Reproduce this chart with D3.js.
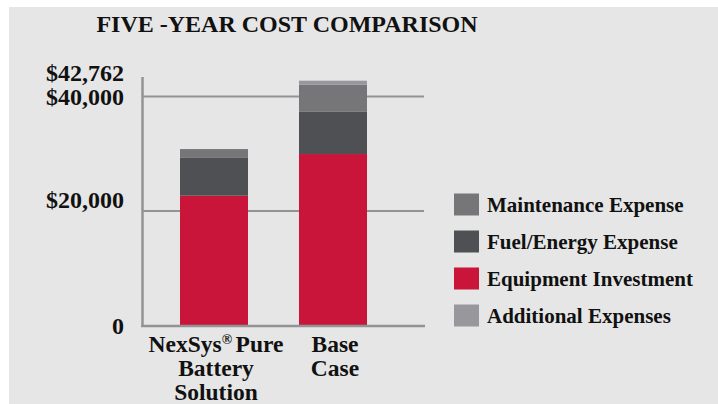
<!DOCTYPE html>
<html>
<head>
<meta charset="utf-8">
<script src="https://cdn.jsdelivr.net/npm/d3@7"></script>
<style>
  body { margin: 0; background: #fff; }
  text { font-family: "Liberation Serif", "Times New Roman", serif; font-weight: bold; fill: #111; }
</style>
</head>
<body>
<svg width="718" height="404"></svg>
<script>
var categories = ["NexSys® Pure Battery Solution", "Base Case"];
var categoryLines = [["NexSys", "® ", "Pure", "Battery", "Solution"], ["Base", "Case"]];
var equipment = [22670, 29950];
var fuel = [6700, 7450];
var maintenance = [1450, 4650];
var additional = [0, 712];
var seriesNames = ["Equipment Investment", "Fuel/Energy Expense", "Maintenance Expense", "Additional Expenses"];
var legendOrder = ["Maintenance Expense", "Fuel/Energy Expense", "Equipment Investment", "Additional Expenses"];
var colors = ["#c9153a", "#4f5053", "#767679", "#98989c"];
var tickValues = [0, 20000, 40000, 42762];
var tickLabels = ["0", "$20,000", "$40,000", "$42,762"];
var gridValues = [20000, 40000];

var svg = d3.select("svg");

svg.append("rect")
    .attr("x", 9).attr("y", 7)
    .attr("width", 709).attr("height", 397)
    .attr("fill", "#e6e6e6");

svg.append("text")
    .attr("x", 287)
    .attr("y", 32)
    .attr("text-anchor", "middle")
    .style("font-size", "24px")
    .text("FIVE -YEAR COST COMPARISON");

var yScale = d3.scaleLinear().domain([0, 40000]).range([325.5, 96.5]);
var xScale = d3.scaleBand().domain(categories).range([180, 367]).paddingInner(51 / 119);

var table = categories.map(function(c, i) {
    return {
        cat: c,
        "Equipment Investment": equipment[i],
        "Fuel/Energy Expense": fuel[i],
        "Maintenance Expense": maintenance[i],
        "Additional Expenses": additional[i]
    };
});
var stacked = d3.stack().keys(seriesNames)(table);
var color = d3.scaleOrdinal().domain(seriesNames).range(colors);

// grid lines
svg.selectAll(".grid")
    .data(gridValues)
    .enter()
    .append("line")
    .attr("x1", 142).attr("x2", 424)
    .attr("y1", d => yScale(d)).attr("y2", d => yScale(d))
    .attr("stroke", "#939396")
    .attr("stroke-width", 2);

// bars
svg.append("g").selectAll("g")
    .data(stacked)
    .enter()
    .append("g")
    .attr("fill", d => color(d.key))
    .selectAll("rect")
    .data(d => d)
    .enter()
    .append("rect")
    .attr("x", d => xScale(d.data.cat))
    .attr("y", d => yScale(d[1]))
    .attr("width", xScale.bandwidth())
    .attr("height", d => yScale(d[0]) - yScale(d[1]));

// axes lines
svg.append("line")
    .attr("x1", 142.5).attr("x2", 142.5)
    .attr("y1", 77).attr("y2", 327)
    .attr("stroke", "#939396").attr("stroke-width", 2.5);
svg.append("line")
    .attr("x1", 141).attr("x2", 425)
    .attr("y1", yScale(0) + 0.5).attr("y2", yScale(0) + 0.5)
    .attr("stroke", "#939396").attr("stroke-width", 2.5);

// y tick labels
var nudge = { 20000: -11, 42762: -8 };
svg.selectAll(".ylab")
    .data(tickValues)
    .enter()
    .append("text")
    .attr("class", "ylab")
    .attr("x", 124)
    .attr("y", d => yScale(d) + (nudge[d] || 0) + 8)
    .attr("text-anchor", "end")
    .style("font-size", "24px")
    .text((d, i) => tickLabels[i]);

// x labels
var first = svg.append("text")
    .attr("x", xScale(categories[0]) + xScale.bandwidth() / 2 + 2)
    .attr("y", 352)
    .attr("text-anchor", "middle")
    .style("font-size", "23.5px");
first.append("tspan").text(categoryLines[0][0]);
first.append("tspan").attr("dy", -8).style("font-size", "14px").text(categoryLines[0][1]);
first.append("tspan").attr("dy", 8).text(categoryLines[0][2]);
[categoryLines[0][3], categoryLines[0][4]].forEach(function(t, i) {
    svg.append("text")
        .attr("x", xScale(categories[0]) + xScale.bandwidth() / 2 + 2)
        .attr("y", 376 + i * 24)
        .attr("text-anchor", "middle")
        .style("font-size", "23.5px")
        .text(t);
});
categoryLines[1].forEach(function(t, i) {
    svg.append("text")
        .attr("x", xScale(categories[1]) + xScale.bandwidth() / 2 + 2)
        .attr("y", 352 + i * 24)
        .attr("text-anchor", "middle")
        .style("font-size", "23.5px")
        .text(t);
});

// legend
var legend = svg.selectAll(".legend")
    .data(legendOrder)
    .enter()
    .append("g")
    .attr("transform", (d, i) => "translate(454," + (204.5 + i * 37) + ")");
legend.append("rect")
    .attr("x", 0).attr("y", -11)
    .attr("width", 25).attr("height", 22)
    .attr("fill", d => color(d));
legend.append("text")
    .attr("x", 33)
    .attr("y", 7)
    .style("font-size", "21px")
    .text(d => d);
</script>
</body>
</html>
